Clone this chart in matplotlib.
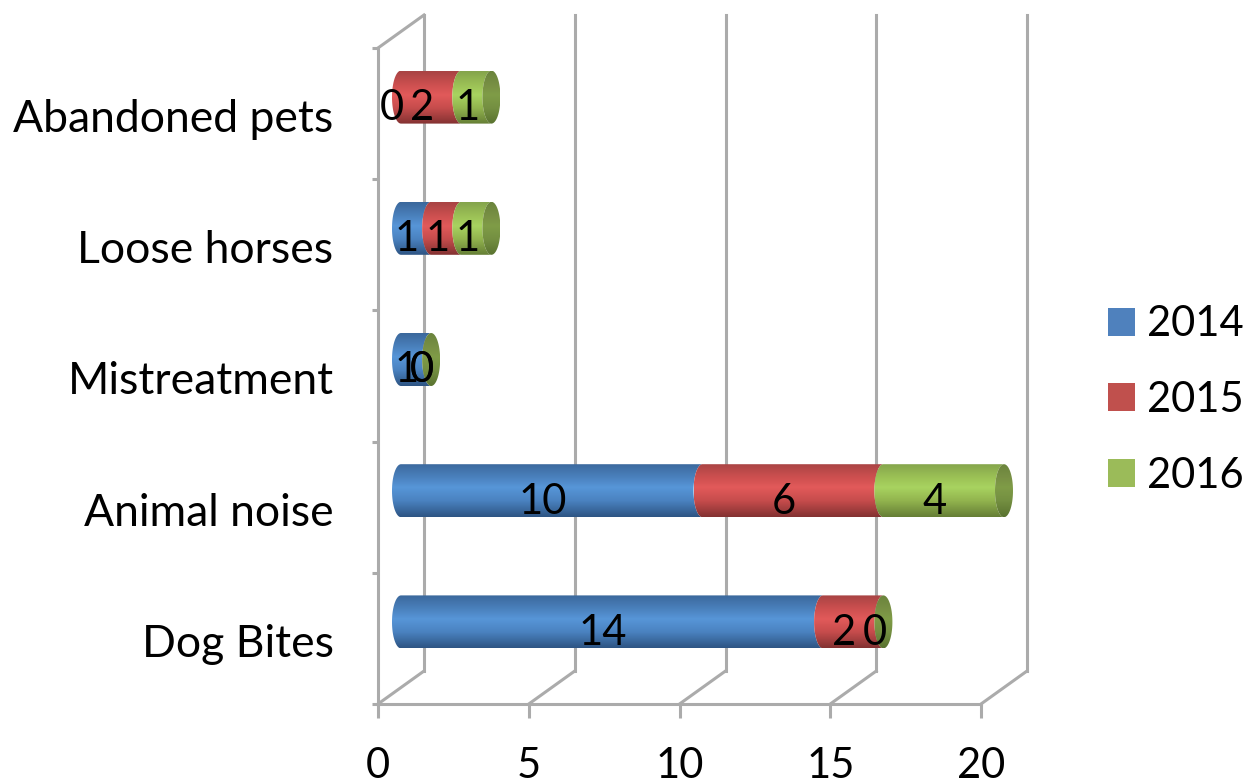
import numpy as np
import matplotlib
matplotlib.use("Agg")
import matplotlib.pyplot as plt
from matplotlib.patches import Polygon, Patch
from matplotlib.transforms import Affine2D

categories = ["Dog Bites", "Animal noise", "Mistreatment", "Loose horses", "Abandoned pets"]
series_names = ["2014", "2015", "2016"]
values_2014 = [14, 10, 1, 1, 0]
values_2015 = [2, 6, 0, 1, 2]
values_2016 = [0, 4, 0, 1, 1]
x_ticks = [0, 5, 10, 15, 20]

plt.rcParams["font.family"] = ["Lato", "DejaVu Sans"]
FS = 30
FS_CAT = 32
W, H = 1248, 783
fig = plt.figure(figsize=(W / 100, H / 100), dpi=100)
ax = fig.add_axes([378 / W, (H - 704) / H, (981 - 378) / W, (704 - 48) / H])
ax.set_facecolor("none")

GREY = "#ABABAB"
LW = 2.2
ppx = (981 - 378) / 20.0
ppy = (704 - 48) / 5.0
DX, DY = 46 / ppx, 33 / ppy      # chart depth in data units
RX, RY = 9 / ppx, 26.5 / ppy     # cylinder ellipse radii

# walls and floor
for t in x_ticks:
    ax.plot([t, t + DX], [-0.5, -0.5 + DY], color=GREY, lw=LW, clip_on=False, zorder=1)
    if t > 0:
        ax.plot([t + DX, t + DX], [-0.5 + DY, 4.5 + DY], color=GREY, lw=LW, clip_on=False, zorder=1)
ax.plot([DX, DX], [-0.5 + DY, 4.5 + DY], color=GREY, lw=LW, clip_on=False, zorder=1)
ax.plot([0, DX], [4.5, 4.5 + DY], color=GREY, lw=LW, clip_on=False, zorder=1)

stops = {
    "2014": ["#3B689C", "#4A80BC", "#5796D8", "#4A82C0", "#2E5584"],
    "2015": ["#A84444", "#CC4F4F", "#E25A5A", "#C64C4C", "#843232"],
    "2016": ["#84A44C", "#9BC055", "#A8D360", "#92B44E", "#667F36"],
    "cap":  ["#6A843C", "#788F44", "#7F9C47", "#748F41", "#5A7330"],
}


def gradient(hexes, n=64):
    cols = np.array([matplotlib.colors.to_rgb(c) for c in hexes])
    pos = np.array([0, 0.25, 0.45, 0.7, 1.0])
    t = np.linspace(0, 1, n)
    return np.stack([np.interp(t, pos, cols[:, i]) for i in range(3)], axis=1)[:, None, :]


def fill(poly_xy, x0, x1, y0, y1, key, z):
    im = ax.imshow(gradient(stops[key]), extent=(x0, x1, y0, y1), origin="upper",
                   aspect="auto", interpolation="bilinear", zorder=z)
    clip = Polygon(poly_xy, closed=True, transform=ax.transData)
    im.set_clip_box(fig.bbox)
    im.set_clip_path(clip)


theta = np.linspace(-np.pi / 2, np.pi / 2, 40)
arc_dx = -RX * np.cos(theta)
arc_dy = RY * np.sin(theta)

series = [values_2014, values_2015, values_2016]
for i in range(len(categories)):
    yc = i + DY / 2
    left = 0.0
    for name, vals in zip(series_names, series):
        v = vals[i]
        xa = left + DX / 2
        xb = left + v + DX / 2
        if v > 0:
            poly = np.vstack([
                np.column_stack([xa + arc_dx, yc + arc_dy]),
                np.column_stack([xb + arc_dx, yc + arc_dy])[::-1],
            ])
            fill(poly, xa - RX, xb + RX, yc - RY, yc + RY, name, 3)
        ax.text(left + v / 2 + 14 / ppx, i + 5.5 / ppy, str(v), fontsize=FS, color="black",
                ha="center", va="center", zorder=6, clip_on=False)
        left += v
    xe = left + DX / 2
    t = np.linspace(0, 2 * np.pi, 80)
    fill(np.column_stack([xe + RX * np.cos(t), yc + RY * np.sin(t)]),
         xe - RX, xe + RX, yc - RY, yc + RY, "cap", 4)

ax.set_xlim(0, 20)
ax.set_ylim(-0.5, 4.5)
for s in ["top", "right"]:
    ax.spines[s].set_visible(False)
for s in ["left", "bottom"]:
    ax.spines[s].set_color(GREY)
    ax.spines[s].set_linewidth(LW)

ax.set_xticks(x_ticks)
ax.set_xticklabels([str(t) for t in x_ticks], fontsize=FS)
ax.tick_params(axis="x", length=10, width=LW, color=GREY, pad=21, labelcolor="black")
ax.set_yticks(np.arange(-0.5, 5.0, 1.0))
ax.set_yticklabels([])
ax.tick_params(axis="y", which="major", length=4.5, width=LW, color=GREY)
ax.set_yticks(range(len(categories)), minor=True)
ax.set_yticklabels(categories, minor=True, fontsize=FS_CAT)
ax.tick_params(axis="y", which="minor", length=0, pad=32, labelcolor="black")
for lab in ax.get_yticklabels(minor=True):
    lab.set_transform(lab.get_transform() + Affine2D().translate(0, -2))

handles = [Patch(facecolor=c, edgecolor="none") for c in ["#4F81BD", "#C0504D", "#9BBB59"]]
fig.legend(handles, series_names, frameon=False, fontsize=FS, loc="center left",
           bbox_to_anchor=(1108 / W, 1 - 400 / H), borderpad=0, borderaxespad=0,
           handlelength=0.65, handleheight=0.65, handletextpad=0.28, labelspacing=0.90)

fig.savefig("out.png", dpi=100)
